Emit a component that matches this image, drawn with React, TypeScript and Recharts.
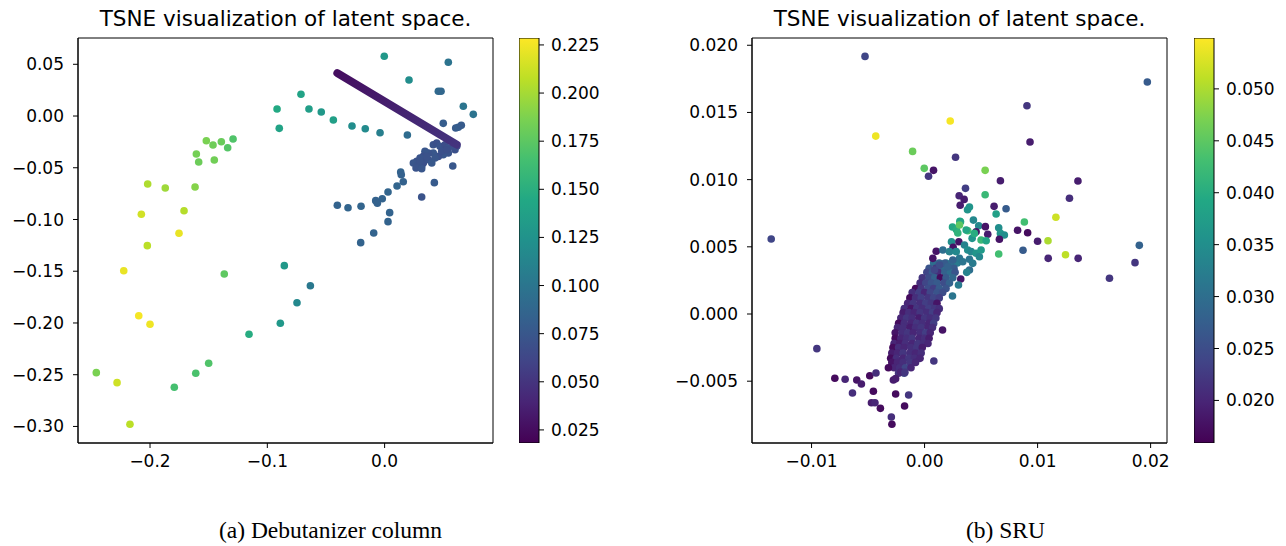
import { ScatterChart, Scatter, XAxis, YAxis, ReferenceArea, BarChart, Bar } from "recharts";

const FONT = "'DejaVu Sans', sans-serif";
const SERIF = "'Liberation Serif', serif";

// viridis anchors (every 10%)
const VIRIDIS = [
  "#440154", "#482475", "#414487", "#355f8d", "#2a788e", "#21918c",
  "#22a884", "#44bf70", "#7ad151", "#bddf26", "#fde725",
];

const hexRgb = (h: string) => [1, 3, 5].map((i) => parseInt(h.slice(i, i + 2), 16));

function viridis(t: number) {
  const s = Math.min(1, Math.max(0, t)) * 10;
  const i = Math.min(9, Math.floor(s));
  const f = s - i;
  const a = hexRgb(VIRIDIS[i]);
  const b = hexRgb(VIRIDIS[i + 1]);
  const m = a.map((v, k) => Math.round(v + (b[k] - v) * f));
  return `rgb(${m[0]},${m[1]},${m[2]})`;
}

// ---------- (a) Debutanizer column : [x, y, colour value] ----------
const debArm: [number, number, number][] = [
  [-0.0917, 0.0068, 0.145], [-0.0898, -0.0119, 0.14], [-0.152, -0.0239, 0.186],
  [-0.1463, -0.028, 0.182], [-0.1392, -0.0248, 0.18], [-0.1292, -0.0222, 0.17],
  [-0.1338, -0.0306, 0.172], [-0.1605, -0.0367, 0.184], [-0.1585, -0.0444, 0.181],
  [-0.1452, -0.0425, 0.183], [-0.202, -0.0657, 0.203], [-0.187, -0.0696, 0.198],
  [-0.1616, -0.0686, 0.19], [-0.171, -0.0915, 0.205], [-0.2074, -0.095, 0.214],
  [-0.1753, -0.1133, 0.222], [-0.2023, -0.1253, 0.207], [-0.2224, -0.1495, 0.222],
  [-0.1367, -0.1527, 0.176], [-0.0855, -0.1446, 0.13], [-0.2096, -0.193, 0.226],
  [-0.2, -0.2013, 0.224], [-0.0889, -0.2003, 0.13], [-0.1156, -0.2109, 0.148],
  [-0.15, -0.2389, 0.17], [-0.161, -0.2486, 0.168], [-0.2458, -0.248, 0.186],
  [-0.2281, -0.2577, 0.213], [-0.1793, -0.2621, 0.166], [-0.2171, -0.2979, 0.207],
  [-0.0633, -0.164, 0.102], [-0.0747, -0.1804, 0.116],
];

const debUpper: [number, number, number][] = [
  [-0.0003, 0.0577, 0.13], [0.0543, 0.0519, 0.098], [0.0208, 0.0348, 0.12],
  [0.0458, 0.0239, 0.09], [0.0481, 0.0239, 0.088], [-0.0713, 0.021, 0.14],
  [-0.0645, 0.0068, 0.135], [-0.054, 0.0039, 0.13], [-0.0437, -0.0039, 0.136],
  [0.0671, 0.0094, 0.1], [0.0756, 0.0016, 0.098], [-0.0278, -0.0097, 0.12],
  [-0.0165, -0.0123, 0.118], [-0.0039, -0.0161, 0.108], [0.0194, -0.0184, 0.092],
  [0.05, -0.0071, 0.08], [0.0606, -0.0116, 0.078], [0.0628, -0.0109, 0.08],
  [0.0654, -0.009, 0.078], [0.0581, -0.0483, 0.075], [0.0424, -0.0644, 0.078],
  [0.0316, -0.0783, 0.072], [0.0137, -0.0541, 0.085], [0.0142, -0.0567, 0.083],
  [0.0159, -0.0635, 0.084], [0.0106, -0.0676, 0.086], [0.0029, -0.0734, 0.086],
  [-0.002, -0.0799, 0.085], [-0.0076, -0.0818, 0.084], [-0.0062, -0.0843, 0.084],
  [-0.0403, -0.0863, 0.085], [-0.0312, -0.0886, 0.086], [-0.0201, -0.0872, 0.086],
  [0.0043, -0.0934, 0.085], [0.0029, -0.1021, 0.085], [-0.0093, -0.113, 0.085],
  [-0.0204, -0.1224, 0.085],
];

const debCluster: [number, number, number][] = [
  [0.0415, -0.0277, 0.072], [0.0444, -0.0261, 0.07], [0.0472, -0.0293, 0.073],
  [0.0515, -0.0277, 0.068], [0.0543, -0.0309, 0.071], [0.0586, -0.0271, 0.066],
  [0.0615, -0.0293, 0.068], [0.06, -0.0326, 0.07], [0.0543, -0.0357, 0.072],
  [0.05, -0.0374, 0.074], [0.0458, -0.039, 0.07], [0.0415, -0.0357, 0.075],
  [0.0373, -0.0357, 0.072], [0.0344, -0.0341, 0.074], [0.033, -0.039, 0.07],
  [0.0302, -0.0406, 0.073], [0.0274, -0.0438, 0.071], [0.0245, -0.0454, 0.074],
  [0.0287, -0.047, 0.072], [0.0316, -0.0486, 0.075], [0.0268, -0.0502, 0.073],
  [0.033, -0.0454, 0.07], [0.0373, -0.0422, 0.072], [0.043, -0.0406, 0.074],
  [0.0487, -0.0341, 0.07], [0.0529, -0.0326, 0.069], [0.0402, -0.0454, 0.076],
  [0.0359, -0.039, 0.071], [0.0302, -0.0438, 0.072], [0.0316, -0.0509, 0.074],
];

// the dense straight streak of points
const debRidge: [number, number, number][] = [
  [-0.0403, 0.0415, 0.026],
  [0.0615, -0.0277, 0.05],
];

const debXTicks = [-0.2, -0.1, 0.0];
const debYTicks = [0.05, 0.0, -0.05, -0.1, -0.15, -0.2, -0.25, -0.3];
const debCTicks = [0.025, 0.05, 0.075, 0.1, 0.125, 0.15, 0.175, 0.2, 0.225];
const debXDomain: [number, number] = [-0.2614, 0.0924];
const debYDomain: [number, number] = [-0.316, 0.0754];
const debCDomain: [number, number] = [0.0182, 0.2286];

// ---------- (b) SRU ----------
const sruSpread: [number, number, number][] = [
  [-0.00527, 0.01917, 0.024], [0.00227, 0.01436, 0.0545], [-0.00432, 0.01324, 0.054],
  [-0.00106, 0.0121, 0.046], [0.00274, 0.01166, 0.022], [-0.00003, 0.01084, 0.045],
  [0.00079, 0.01069, 0.018], [0.00035, 0.01025, 0.022], [-0.01357, 0.00558, 0.024],
  [0.01971, 0.01726, 0.027], [0.00906, 0.0155, 0.022], [0.00933, 0.0128, 0.019],
  [0.00536, 0.01069, 0.047], [0.00671, 0.00992, 0.019], [0.01357, 0.0099, 0.019],
  [0.00362, 0.00935, 0.023], [0.00536, 0.00888, 0.042], [0.01282, 0.00861, 0.021],
  [0.01162, 0.0072, 0.052], [0.00883, 0.00685, 0.043], [0.00823, 0.00623, 0.018],
  [0.00912, 0.00605, 0.017], [0.01, 0.00541, 0.019], [0.01092, 0.00545, 0.05],
  [0.019, 0.00511, 0.028], [0.00871, 0.00474, 0.027], [0.00656, 0.00446, 0.043],
  [0.01247, 0.00441, 0.051], [0.01094, 0.00414, 0.02], [0.01359, 0.00414, 0.02],
  [0.01862, 0.00382, 0.022], [0.01636, 0.00266, 0.022], [-0.00953, -0.00258, 0.022],
];

const sruCrown: [number, number, number][] = [
  [0.00306, 0.0088, 0.02], [0.0035, 0.00853, 0.019], [0.00315, 0.00809, 0.019],
  [0.00615, 0.00801, 0.019], [0.00721, 0.00783, 0.027], [0.00633, 0.00744, 0.038],
  [0.00397, 0.00796, 0.036], [0.0038, 0.00776, 0.036], [0.00432, 0.00699, 0.034],
  [0.00318, 0.00687, 0.04], [0.00247, 0.00647, 0.039], [0.00282, 0.00627, 0.04],
  [0.00312, 0.0069, 0.039], [0.00294, 0.00603, 0.041], [0.00382, 0.0062, 0.043],
  [0.00479, 0.00657, 0.034], [0.00538, 0.0065, 0.018], [0.00456, 0.00612, 0.018],
  [0.00559, 0.00593, 0.019], [0.00656, 0.00642, 0.035], [0.00671, 0.006, 0.036],
  [0.00706, 0.00588, 0.035], [0.00662, 0.00556, 0.018], [0.00421, 0.00563, 0.036],
  [0.005, 0.00551, 0.042], [0.00545, 0.00545, 0.039], [0.00303, 0.00538, 0.018],
  [0.00238, 0.00538, 0.035], [0.00253, 0.00496, 0.018], [0.00103, 0.00467, 0.018],
  [0.00353, 0.00513, 0.033], [0.00382, 0.00476, 0.035], [0.00412, 0.00464, 0.034],
  [0.00456, 0.00452, 0.036], [0.005, 0.00476, 0.037], [0.00485, 0.00426, 0.034],
  [0.00397, 0.00407, 0.031], [0.00426, 0.00377, 0.032], [0.00397, 0.00327, 0.03],
  [0.00162, 0.00476, 0.03], [0.00221, 0.00464, 0.033], [0.0028, 0.00464, 0.034],
  [0.00309, 0.00414, 0.031], [0.0025, 0.00402, 0.028], [0.00177, 0.00377, 0.027],
  [0.00206, 0.00352, 0.028], [0.00132, 0.00365, 0.025], [0.00088, 0.00327, 0.024],
  [0.00073, 0.00414, 0.018], [0.0032, 0.0026, 0.018], [0.00373, 0.0031, 0.033],
  [0.003, 0.00216, 0.032], [0.00247, 0.00134, 0.031], [0.00159, -0.00119, 0.018],
  [0.00082, -0.0035, 0.022], [0.00309, 0.00662, 0.045], [0.00441, 0.006, 0.04],
  [0.00368, 0.00625, 0.039], [0.00338, 0.00389, 0.031],
];

const sruTail: [number, number, number][] = [
  [-0.00794, -0.00478, 0.017], [-0.00703, -0.00486, 0.02], [-0.006, -0.00491, 0.018],
  [-0.00559, -0.00521, 0.019], [-0.00485, -0.00459, 0.017], [-0.0043, -0.00439, 0.021],
  [-0.00638, -0.00588, 0.021], [-0.00453, -0.00575, 0.017], [-0.0047, -0.0066, 0.019],
  [-0.00439, -0.0066, 0.02], [-0.00391, -0.00702, 0.017], [-0.00256, -0.00595, 0.017],
  [-0.00141, -0.00603, 0.022], [-0.00177, -0.00685, 0.017], [-0.00294, -0.00766, 0.021],
  [-0.00289, -0.00821, 0.017], [-0.0032, -0.004, 0.017], [-0.00276, -0.00491, 0.019],
  [-0.00256, -0.00481, 0.019], [-0.00212, -0.00432, 0.02], [-0.00174, -0.00434, 0.022],
];

const sruBlob: [number, number, number][] = [
  [0.0008, 0.0038, 0.03], [0.0013, 0.0038, 0.028], [0.0019, 0.0038, 0.031], [0.0024, 0.0038, 0.03], [0.0029, 0.0038, 0.032],
  [0.0004, 0.0034, 0.026], [0.001, 0.0034, 0.022], [0.0015, 0.0034, 0.029], [0.002, 0.0034, 0.03], [0.0026, 0.0034, 0.027],
  [0.0002, 0.0031, 0.024], [0.0007, 0.0031, 0.027], [0.0012, 0.0031, 0.021], [0.0018, 0.0031, 0.028], [0.0023, 0.0031, 0.03], [0.0027, 0.0031, 0.026],
  [-0.0002, 0.0027, 0.022], [0.0004, 0.0027, 0.025], [0.0009, 0.0027, 0.028], [0.0014, 0.0027, 0.017], [0.0019, 0.0027, 0.027], [0.0025, 0.0027, 0.029],
  [-0.0004, 0.0023, 0.021], [0.0001, 0.0023, 0.024], [0.0006, 0.0023, 0.026], [0.0011, 0.0023, 0.027], [0.0017, 0.0023, 0.025], [0.0022, 0.0023, 0.028],
  [-0.0008, 0.0019, 0.017], [-0.0003, 0.0019, 0.022], [0.0003, 0.0019, 0.025], [0.0008, 0.0019, 0.023], [0.0013, 0.0019, 0.027], [0.0019, 0.0019, 0.026],
  [-0.0011, 0.0016, 0.021], [-0.0005, 0.0016, 0.023], [0.0, 0.0016, 0.02], [0.0005, 0.0016, 0.024], [0.0011, 0.0016, 0.026], [0.0016, 0.0016, 0.025],
  [-0.0013, 0.0012, 0.017], [-0.0008, 0.0012, 0.021], [-0.0003, 0.0012, 0.023], [0.0003, 0.0012, 0.022], [0.0008, 0.0012, 0.024], [0.0013, 0.0012, 0.023],
  [-0.0015, 0.0008, 0.02], [-0.001, 0.0008, 0.022], [-0.0004, 0.0008, 0.021], [0.0001, 0.0008, 0.023], [0.0006, 0.0008, 0.022], [0.0011, 0.0008, 0.018],
  [-0.0018, 0.0004, 0.021], [-0.0012, 0.0004, 0.018], [-0.0007, 0.0004, 0.022], [-0.0002, 0.0004, 0.021], [0.0004, 0.0004, 0.023], [0.0009, 0.0004, 0.022], [0.0013, 0.0004, 0.021],
  [-0.0019, 0.0001, 0.019], [-0.0014, 0.0001, 0.021], [-0.0009, 0.0001, 0.02], [-0.0004, 0.0001, 0.022], [0.0002, 0.0001, 0.021], [0.0007, 0.0001, 0.023], [0.0011, 0.0001, 0.02],
  [-0.0021, -0.0003, 0.02], [-0.0016, -0.0003, 0.022], [-0.0011, -0.0003, 0.021], [-0.0005, -0.0003, 0.019], [0.0, -0.0003, 0.022], [0.0005, -0.0003, 0.021], [0.001, -0.0003, 0.022],
  [-0.0023, -0.0007, 0.017], [-0.0018, -0.0007, 0.021], [-0.0012, -0.0007, 0.02], [-0.0007, -0.0007, 0.022], [-0.0002, -0.0007, 0.021], [0.0004, -0.0007, 0.02], [0.0008, -0.0007, 0.023],
  [-0.0024, -0.001, 0.02], [-0.0019, -0.001, 0.021], [-0.0013, -0.001, 0.019], [-0.0008, -0.001, 0.021], [-0.0003, -0.001, 0.022], [0.0003, -0.001, 0.02], [0.0007, -0.001, 0.021],
  [-0.0026, -0.0014, 0.018], [-0.002, -0.0014, 0.021], [-0.0015, -0.0014, 0.022], [-0.001, -0.0014, 0.02], [-0.0004, -0.0014, 0.021], [0.0001, -0.0014, 0.023], [0.0005, -0.0014, 0.02],
  [-0.0026, -0.0018, 0.017], [-0.0021, -0.0018, 0.02], [-0.0016, -0.0018, 0.021], [-0.0011, -0.0018, 0.022], [-0.0005, -0.0018, 0.02], [0.0, -0.0018, 0.021], [0.0004, -0.0018, 0.019],
  [-0.0027, -0.0022, 0.02], [-0.0022, -0.0022, 0.019], [-0.0017, -0.0022, 0.021], [-0.0011, -0.0022, 0.02], [-0.0006, -0.0022, 0.022], [-0.0001, -0.0022, 0.021], [0.0003, -0.0022, 0.02],
  [-0.0028, -0.0025, 0.017], [-0.0023, -0.0025, 0.021], [-0.0018, -0.0025, 0.02], [-0.0012, -0.0025, 0.021], [-0.0007, -0.0025, 0.022], [-0.0002, -0.0025, 0.019],
  [-0.0029, -0.0029, 0.019], [-0.0024, -0.0029, 0.02], [-0.0019, -0.0029, 0.022], [-0.0013, -0.0029, 0.021], [-0.0008, -0.0029, 0.02], [-0.0003, -0.0029, 0.021],
  [-0.003, -0.0033, 0.017], [-0.0025, -0.0033, 0.021], [-0.0019, -0.0033, 0.02], [-0.0014, -0.0033, 0.022], [-0.0009, -0.0033, 0.021], [-0.0004, -0.0033, 0.02],
  [-0.0029, -0.0036, 0.018], [-0.0024, -0.0036, 0.02], [-0.0019, -0.0036, 0.021], [-0.0013, -0.0036, 0.022], [-0.0008, -0.0036, 0.02],
  [-0.0027, -0.004, 0.02], [-0.0022, -0.004, 0.021], [-0.0017, -0.004, 0.024], [-0.0012, -0.004, 0.02],
  [-0.0023, -0.0044, 0.022], [-0.0018, -0.0044, 0.024],
];

const sruXTicks = [-0.01, 0.0, 0.01, 0.02];
const sruYTicks = [0.02, 0.015, 0.01, 0.005, 0.0, -0.005];
const sruCTicks = [0.02, 0.025, 0.03, 0.035, 0.04, 0.045, 0.05];
const sruXDomain: [number, number] = [-0.01527, 0.02145];
const sruYDomain: [number, number] = [-0.0096, 0.02054];
const sruCDomain: [number, number] = [0.0159, 0.0549];

const toPts = (rows: [number, number, number][]) => rows.map(([x, y, c]) => ({ x, y, c }));
const fmt = (d: number) => (v: number) => v.toFixed(d).replace("-", "\u2212");
const tickStyle = { fill: "#000", fontSize: 17, fontFamily: FONT };

function makeDot(cDomain: [number, number]) {
  return (props: any) => {
    const { cx, cy, payload } = props;
    const t = (payload.c - cDomain[0]) / (cDomain[1] - cDomain[0]);
    return <circle cx={cx} cy={cy} r={3.8} fill={viridis(t)} />;
  };
}

interface PanelProps {
  left: number;
  axisWidth: number;
  groups: [number, number, number][][];
  ridge?: [number, number, number][];
  xDomain: [number, number];
  yDomain: [number, number];
  cDomain: [number, number];
  xTicks: number[];
  yTicks: number[];
  xDigits: number;
  yDigits: number;
  id: string;
}

function Panel(p: PanelProps) {
  const dot = makeDot(p.cDomain);
  const ct = (c: number) => viridis((c - p.cDomain[0]) / (p.cDomain[1] - p.cDomain[0]));
  return (
    <div style={{ position: "absolute", left: p.left, top: 0 }}>
      <ScatterChart
        width={p.axisWidth + 415 + 7}
        height={480}
        margin={{ top: 38, right: 7, bottom: 7, left: 0 }}
      >
        <defs>
          {p.ridge && (
            <linearGradient id={`${p.id}-ridge`} x1="0" y1="0" x2="1" y2="1">
              <stop offset="0" stopColor={ct(p.ridge[0][2])} />
              <stop offset="1" stopColor={ct(p.ridge[p.ridge.length - 1][2])} />
            </linearGradient>
          )}
        </defs>
        <XAxis
          type="number"
          dataKey="x"
          domain={p.xDomain}
          ticks={p.xTicks}
          allowDataOverflow
          height={30}
          tickSize={5}
          tickMargin={7}
          tickFormatter={fmt(p.xDigits)}
          tick={tickStyle}
          axisLine={{ stroke: "#000" }}
          tickLine={{ stroke: "#000" }}
        />
        <YAxis
          type="number"
          dataKey="y"
          domain={p.yDomain}
          ticks={p.yTicks}
          allowDataOverflow
          width={p.axisWidth}
          tickSize={5}
          tickMargin={9}
          tickFormatter={fmt(p.yDigits)}
          tick={tickStyle}
          axisLine={{ stroke: "#000" }}
          tickLine={{ stroke: "#000" }}
        />
        <ReferenceArea
          x1={p.xDomain[0]}
          x2={p.xDomain[1]}
          y1={p.yDomain[0]}
          y2={p.yDomain[1]}
          fill="none"
          fillOpacity={0}
          stroke="#000"
          strokeWidth={1}
        />
        {p.groups.map((g, i) => (
          <Scatter key={i} data={toPts(g)} shape={dot} isAnimationActive={false} />
        ))}
        {p.ridge && (
          <Scatter
            data={toPts(p.ridge)}
            line={{ stroke: `url(#${p.id}-ridge)`, strokeWidth: 8, strokeLinecap: "round" }}
            shape={() => <g />}
            isAnimationActive={false}
          />
        )}
      </ScatterChart>
    </div>
  );
}

function ColorBar({ left, domain, ticks, id }: { left: number; domain: [number, number]; ticks: number[]; id: string }) {
  return (
    <div style={{ position: "absolute", left, top: 0 }}>
      <BarChart
        width={120}
        height={480}
        data={[{ k: "c", v: domain[1] }]}
        margin={{ top: 38, right: 40, bottom: 37, left: 0 }}
        barCategoryGap={0}
      >
        <defs>
          <linearGradient id={id} x1="0" y1="1" x2="0" y2="0">
            {VIRIDIS.map((c, i) => (
              <stop key={i} offset={i / 10} stopColor={c} />
            ))}
          </linearGradient>
        </defs>
        <XAxis dataKey="k" hide />
        <YAxis
          orientation="right"
          type="number"
          domain={domain}
          ticks={ticks}
          allowDataOverflow
          width={60}
          tickSize={5}
          tickMargin={7}
          tickFormatter={fmt(3)}
          tick={tickStyle}
          axisLine={false}
          tickLine={{ stroke: "#000" }}
        />
        <Bar dataKey="v" fill={`url(#${id})`} stroke="#000" strokeWidth={1} isAnimationActive={false} />
      </BarChart>
    </div>
  );
}

const titleStyle = (left: number): React.CSSProperties => ({
  position: "absolute",
  left,
  top: 7,
  width: 415,
  textAlign: "center",
  fontFamily: FONT,
  fontSize: 21.5,
  lineHeight: "24px",
  color: "#000",
  whiteSpace: "nowrap",
});

const captionStyle = (center: number): React.CSSProperties => ({
  position: "absolute",
  left: center - 200,
  top: 517,
  width: 400,
  textAlign: "center",
  fontFamily: SERIF,
  fontSize: 23.5,
  lineHeight: "27px",
  color: "#000",
});

export default function App() {
  return (
    <div style={{ position: "absolute", left: 0, top: 0, width: 1286, height: 546, background: "#fff" }}>
      <Panel
        id="deb"
        left={0}
        axisWidth={78}
        groups={[debArm, debUpper, debCluster]}
        ridge={debRidge}
        xDomain={debXDomain}
        yDomain={debYDomain}
        cDomain={debCDomain}
        xTicks={debXTicks}
        yTicks={debYTicks}
        xDigits={1}
        yDigits={2}
      />
      <ColorBar left={519} domain={debCDomain} ticks={debCTicks} id="cbDeb" />
      <div style={titleStyle(78)}>TSNE visualization of latent space.</div>
      <div style={captionStyle(330.5)}>(a) Debutanizer column</div>

      <Panel
        id="sru"
        left={670}
        axisWidth={82}
        groups={[sruBlob, sruCrown, sruTail, sruSpread]}
        xDomain={sruXDomain}
        yDomain={sruYDomain}
        cDomain={sruCDomain}
        xTicks={sruXTicks}
        yTicks={sruYTicks}
        xDigits={2}
        yDigits={3}
      />
      <ColorBar left={1194} domain={sruCDomain} ticks={sruCTicks} id="cbSru" />
      <div style={titleStyle(752)}>TSNE visualization of latent space.</div>
      <div style={captionStyle(1005.5)}>(b) SRU</div>
    </div>
  );
}
